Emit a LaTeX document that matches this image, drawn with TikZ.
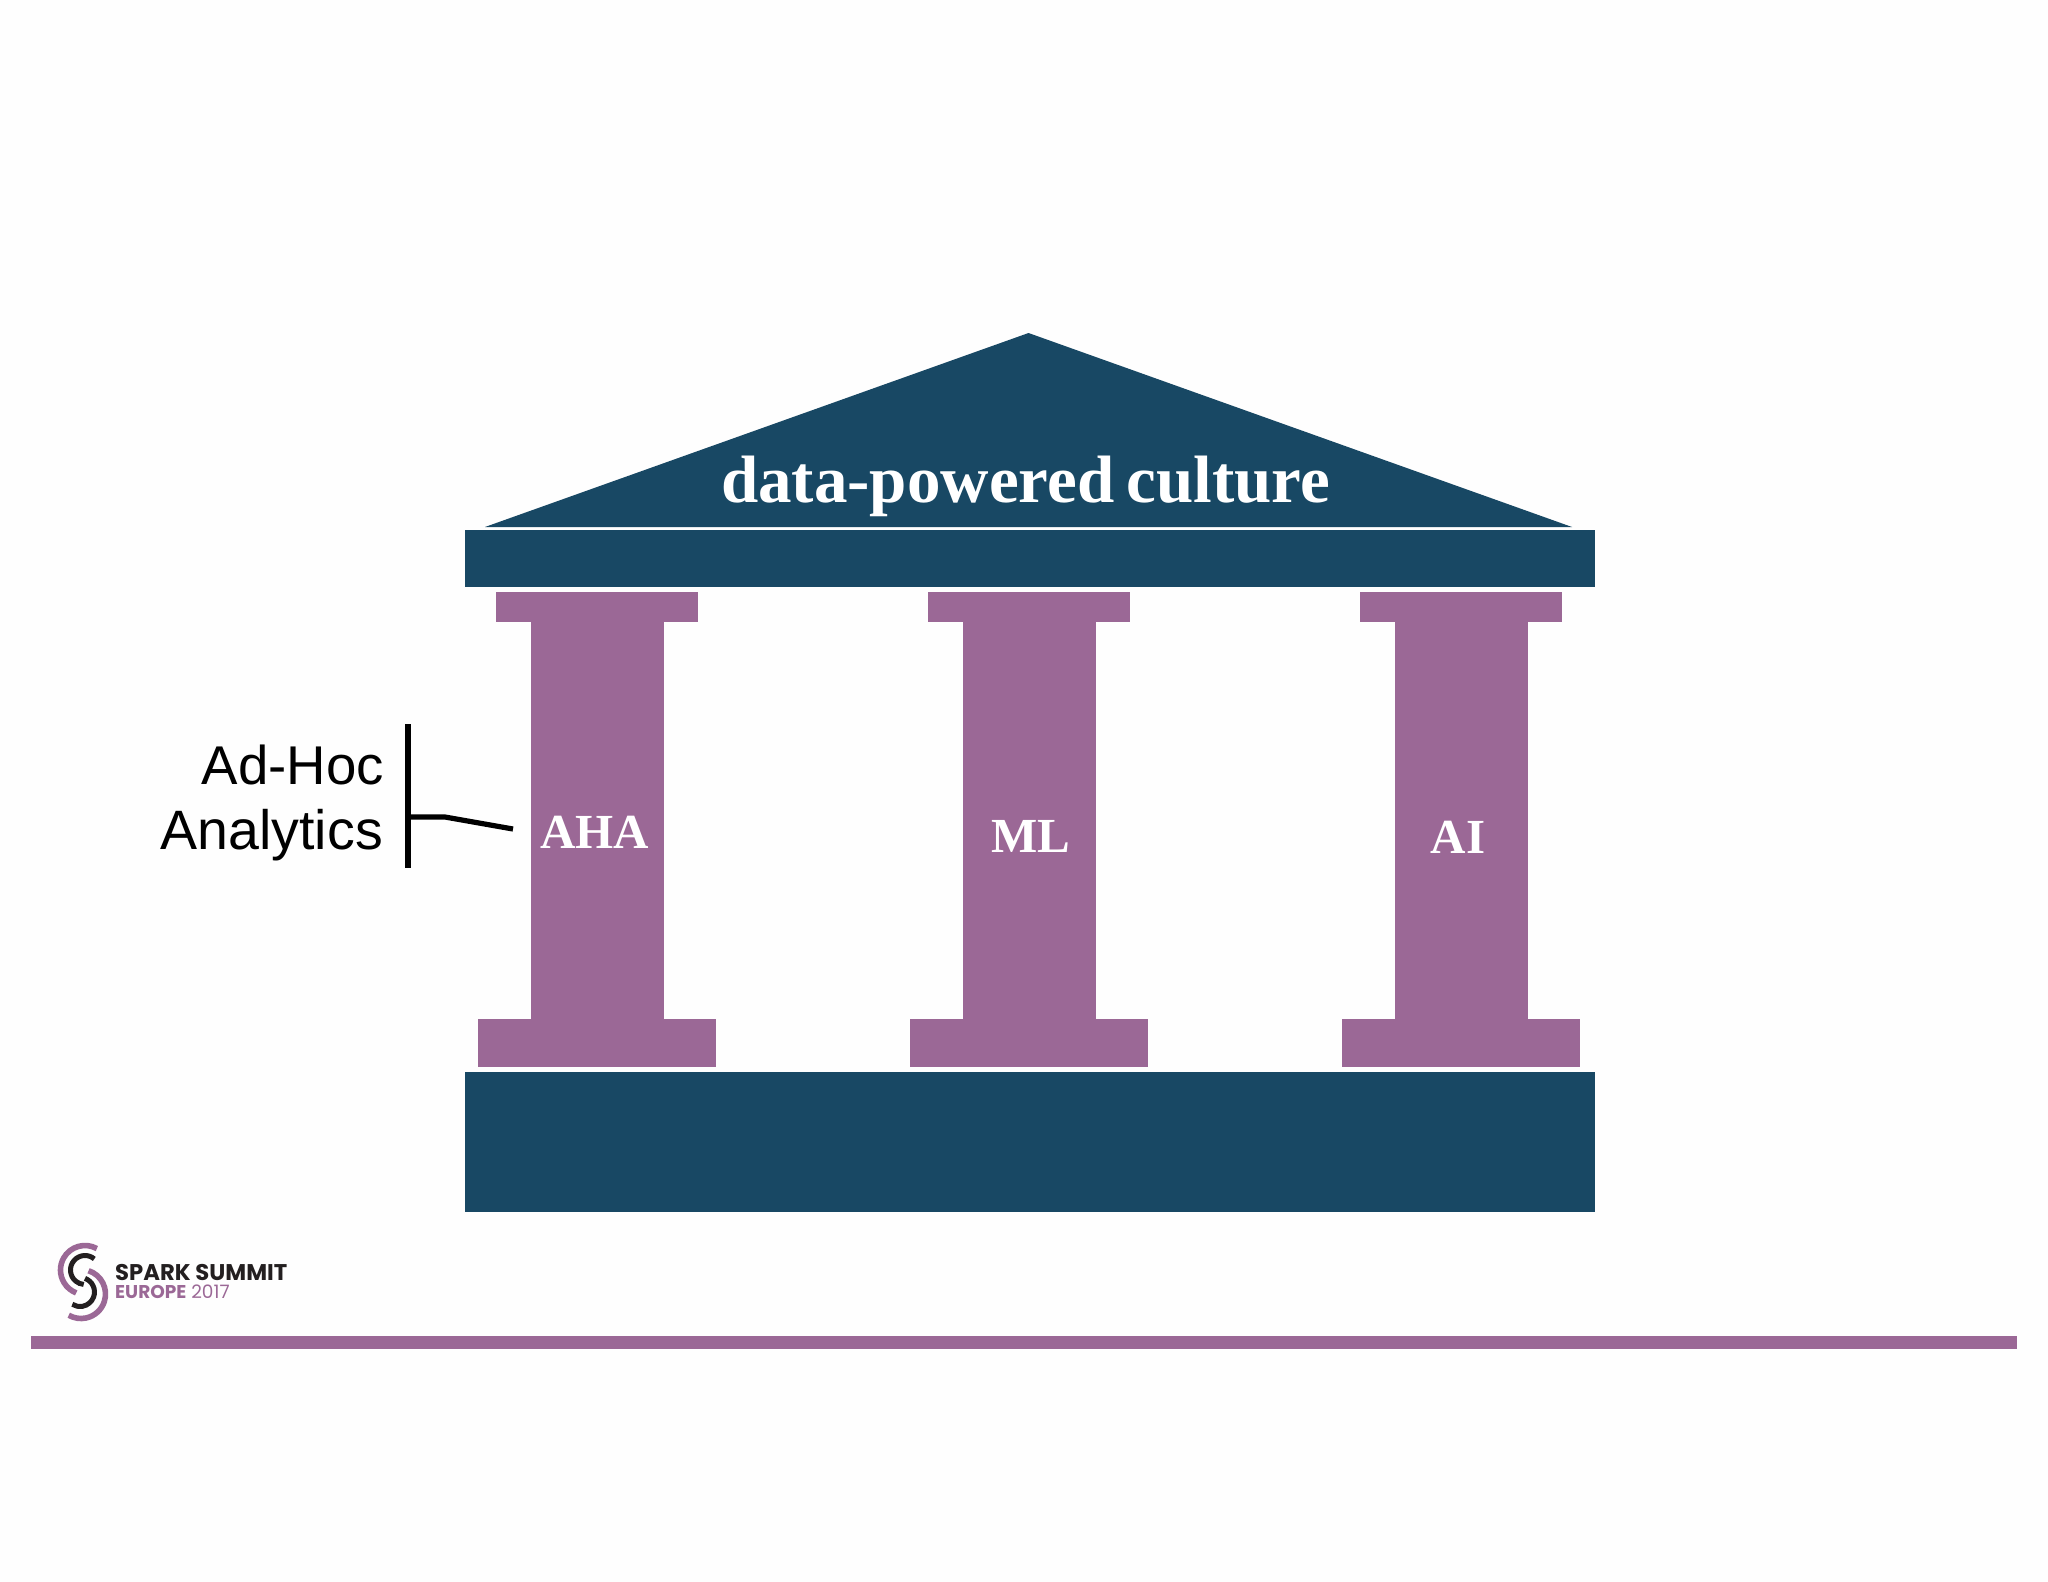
\documentclass[tikz,border=0pt]{standalone}
\usepackage{fontspec}
\setmainfont{Liberation Serif}
\newfontfamily\armfont{Liberation Sans}
\newfontfamily\logofont{Poppins}
\definecolor{navy}{HTML}{184864}
\definecolor{plum}{HTML}{9B6896}
\definecolor{logoink}{HTML}{231F20}
\tikzset{
  blockshape/.style={fill=navy,draw=none},
  columnshape/.style={fill=plum,draw=none},
  columnlabel/.style={text=white,font=\bfseries\fontsize{49}{49}\selectfont,inner sep=0pt,anchor=base},
  calloutline/.style={line width=5.2pt,black},
  calloutext/.style={font=\armfont\fontsize{55.5}{65}\selectfont,inner sep=0pt,anchor=base east},
  logoarcp/.style={line width=5.6pt,plum},
  logoarck/.style={line width=5pt,logoink},
}
\begin{document}
\begin{tikzpicture}[x=1pt,y=-1pt]
\useasboundingbox (0,0) rectangle (2048,1582);
\fill[white!99.5!black] (0,0) rectangle (2048,1582);
% roof, beam, plinth
\fill[blockshape] (485,527) -- (1028.5,333) -- (1572,527) -- cycle;
\fill[blockshape] (465,530) rectangle (1595,587);
\fill[blockshape] (465,1072) rectangle (1595,1212);
\node[text=white,font=\bfseries\fontsize{67}{67}\selectfont,inner sep=0pt,anchor=base] (roof) at (1025.5,502) {data-powered\hspace{-0.07em} culture};
% columns
\foreach \c in {597,1029,1461}{
  \fill[columnshape] (\c-101,592) rectangle (\c+101,622);
  \fill[columnshape] (\c-66.5,622) rectangle (\c+66.5,1019);
  \fill[columnshape] (\c-119,1019) rectangle (\c+119,1067);
}
\node[columnlabel] (aha) at (594.5,848) {AHA};
\node[columnlabel] (ml) at (1031,852) {ML};
\node[columnlabel] (ai) at (1458,853) {AI};
% callout
\node[calloutext,font=\armfont\fontsize{54.6}{65}\selectfont] (adhoc) at (384,784) {Ad-Hoc};
\node[calloutext] (analytics) at (383,849) {Analytics};
\coordinate (bartop) at (408,724);
\coordinate (barbot) at (408,868);
\coordinate (barmid) at (408,817);
\coordinate (knee) at (445,817);
\coordinate (tip) at (513,829);
\draw[calloutline] (bartop) -- (barbot);
\draw[calloutline] (barmid) -- (knee) -- (tip);
% footer rule
\fill[plum] (31,1336) rectangle (2017,1349);
% logo
\begin{scope}[shift={(30,1220)}]
  \draw[logoarcp] (55,50) ++(-61:24.5) arc[start angle=-61,end angle=-249,radius=24.5];
  \draw[logoarcp] (51,74) ++(-72:24.5) arc[start angle=-72,end angle=120,radius=24.5];
  \draw[logoarck] (55,50) ++(-50:14.5) arc[start angle=-50,end angle=-265,radius=14.5];
  \draw[logoarck] (50,72) ++(-70:14.5) arc[start angle=-70,end angle=122,radius=14.5];
\end{scope}
\node[font=\logofont\bfseries\fontsize{22.7}{22.7}\selectfont,text=logoink,inner sep=0pt,anchor=base west] (summit) at (115,1280.5) {SPARK SUMMIT};
\node[font=\logofont\fontsize{18.5}{18.5}\selectfont,text=plum,inner sep=0pt,anchor=base west] (europe) at (115,1298) {{\bfseries EUROPE} 2017};
\end{tikzpicture}
\end{document}
